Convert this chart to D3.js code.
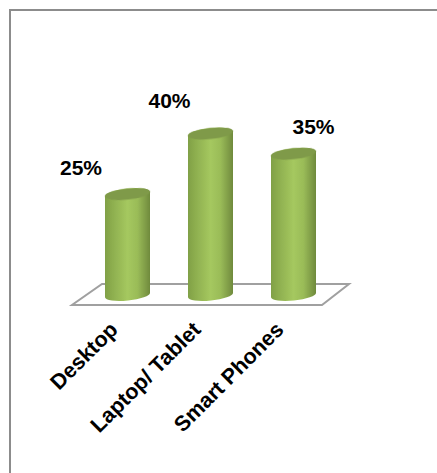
<!DOCTYPE html>
<html><head><meta charset="utf-8">
<script src="https://cdn.jsdelivr.net/npm/d3@7"></script>
<style>html,body{margin:0;padding:0;background:#fff}svg{display:block}</style>
</head><body><svg id="c" width="437" height="473"></svg>
<script>
const categories = ["Desktop", "Laptop/ Tablet", "Smart Phones"];
const shares = [25, 40, 35];
const tickLabels = ["25%", "40%", "35%"];

const svg = d3.select("#c");
const font = "'Liberation Sans', Arial, sans-serif";

const x = d3.scalePoint().domain(categories).range([127.5, 293.5]);
const y = d3.scaleLinear().domain([0, 40]).range([295, 133.5]);
const rx = 22.5, ry = 5.5, tilt = -6;

const defs = svg.append("defs");
const g = defs.append("linearGradient").attr("id", "body");
[[0, "#80a046"], [0.15, "#8cad4e"], [0.5, "#a5c85f"], [0.72, "#9abc58"], [0.9, "#7f9c47"], [1, "#6f8a3c"]]
  .forEach(([o, c]) => g.append("stop").attr("offset", o).attr("stop-color", c));
const blur = defs.append("filter").attr("id", "soft").attr("x", "-10%").attr("y", "-10%").attr("width", "120%").attr("height", "120%");
blur.append("feGaussianBlur").attr("stdDeviation", 0.5);

// frame
svg.append("path").attr("d", d3.line()([[437, 10], [10, 10], [10, 473]]))
  .attr("fill", "none").attr("stroke", "#8c8c8c").attr("stroke-width", 2);

// floor
svg.append("path").attr("d", d3.line()([[72, 305], [322, 305], [349, 284], [102, 284]]) + "Z")
  .attr("fill", "#fff").attr("stroke", "#a0a0a0").attr("stroke-width", 2);

// cylinders: side walls run between two tilted ellipses
const cyl = svg.selectAll("g.cyl").data(categories).join("g").attr("class", "cyl");
const dy = rx * Math.sin(tilt * Math.PI / 180);
cyl.append("path")
  .attr("d", (d, i) => {
    const cx = x(d), t = y(shares[i]), b = y(0);
    return `M${cx - rx},${t - dy} L${cx - rx},${b - dy} A${rx},${ry} ${tilt} 0 0 ${cx + rx},${b + dy} L${cx + rx},${t + dy} A${rx},${ry} ${tilt} 0 0 ${cx - rx},${t - dy}Z`;
  })
  .attr("fill", "url(#body)").attr("filter", "url(#soft)");
cyl.append("ellipse")
  .attr("rx", rx).attr("ry", ry)
  .attr("transform", (d, i) => `translate(${x(d)},${y(shares[i])}) rotate(${tilt})`)
  .attr("fill", "#7f9a48").attr("filter", "url(#soft)");

// value labels
const labelDx = [-46.5, -41, 20], labelDy = [-25, -31, -25.5];
svg.selectAll("text.val").data(tickLabels).join("text").attr("class", "val")
  .attr("x", (d, i) => x(categories[i]) + labelDx[i])
  .attr("y", (d, i) => y(shares[i]) + labelDy[i])
  .attr("text-anchor", "middle").attr("dominant-baseline", "middle")
  .attr("font-family", font).attr("font-weight", "bold").attr("font-size", 21).attr("fill", "#000")
  .text(d => d);

// category labels
svg.selectAll("text.cat").data(categories).join("text").attr("class", "cat")
  .attr("text-anchor", "end")
  .attr("transform", d => `translate(${x(d) - 8.5},${331}) rotate(-45)`)
  .attr("font-family", font).attr("font-weight", "bold").attr("font-size", 21.5).attr("fill", "#000")
  .text(d => d);
</script></body></html>
